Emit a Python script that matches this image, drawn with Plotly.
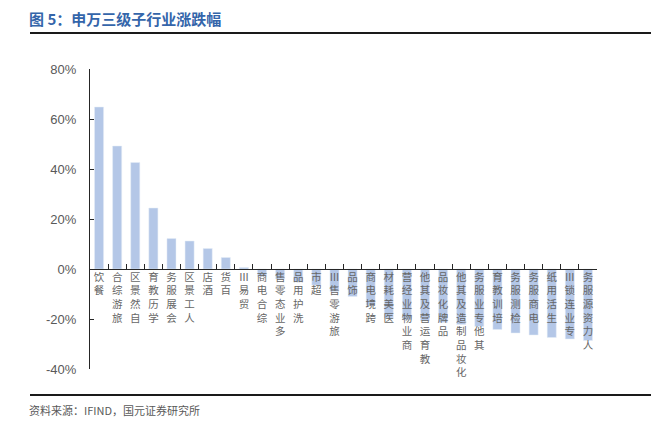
import plotly.graph_objects as go

categories = ["餐饮", "旅游综合", "自然景区", "学历教育", "会展服务", "人工景区", "酒店", "百货",
              "贸易Ⅲ", "综合电商", "多业态零售", "洗护用品", "超市", "旅游零售Ⅲ", "饰品", "跨境电商",
              "医美耗材", "商业物业经营", "教育运营及其他", "品牌化妆品", "化妆品制造及其他",
              "其他专业服务", "培训教育", "检测服务", "电商服务", "生活用纸", "专业连锁Ⅲ", "人力资源服务"]
values = [64.8, 49.2, 42.6, 24.4, 12.2, 11.2, 8.2, 4.6,
          0.6, -3.0, -4.0, -5.2, -6.5, -9.0, -11.0, -14.5,
          -19.6, -20.3, -20.8, -21.4, -22.2,
          -23.0, -24.2, -25.6, -26.4, -27.4, -28.0, -28.6]
y_ticks = [-40, -20, 0, 20, 40, 60, 80]
y_ticklabels = [f"{v}%" for v in y_ticks]

# vertical labels read bottom-to-top, characters upright
def vlabel(s):
    return "<br>".join(reversed(list(s)))

tick_text = [vlabel(c) for c in categories]

y_min, y_max = -40, 80
fig = go.Figure(go.Bar(x=categories, y=values, marker_color="#B4C7E7", width=0.5))

# page body has an 8px margin, so the figure is 8px smaller and margins shifted
fig.update_layout(
    width=651, height=423,
    margin=dict(l=82, r=62, t=61, b=62),
    plot_bgcolor="white", paper_bgcolor="white",
    showlegend=False,
    font=dict(family="Liberation Sans, Noto Sans CJK SC", color="#595959"),
    xaxis=dict(
        type="category", tickmode="array", tickvals=categories, ticktext=tick_text,
        anchor="free", position=(0 - y_min) / (y_max - y_min), automargin=False,
        showline=True, linecolor="#262626", linewidth=1.2,
        ticks="inside", ticklen=5, tickcolor="#262626", tickson="boundaries",
        tickangle=0, showgrid=False, zeroline=False,
        tickfont=dict(family="Noto Sans CJK SC", size=10.5, color="#666666"),
        ticklabelstandoff=-2,
        range=[-0.5, len(categories) - 0.5],
    ),
    yaxis=dict(
        range=[y_min, y_max], tickvals=y_ticks, ticktext=y_ticklabels, automargin=False,
        showline=True, linecolor="#262626", linewidth=1.2,
        ticks="inside", ticklen=4, tickcolor="#262626",
        showgrid=False, zeroline=False,
        tickfont=dict(family="Liberation Sans", size=13, color="#595959"),
        ticklabelstandoff=10,
    ),
)

# title and frame lines (page pixel positions converted to paper fractions)
fig.add_annotation(text="<b>图 5：申万三级子行业涨跌幅</b>", xref="paper", yref="paper",
                   x=(27 - 90) / 507, y=1 + (69 - 18) / 300, xanchor="left", yanchor="middle",
                   showarrow=False, font=dict(family="Noto Sans CJK SC", size=15, color="#3465AA"))
fig.add_shape(type="line", xref="paper", yref="paper",
              x0=(30 - 90) / 507, x1=(659 - 90) / 507, y0=1 + (69 - 33) / 300, y1=1 + (69 - 33) / 300,
              line=dict(color="#1a1a1a", width=2))
fig.add_shape(type="line", xref="paper", yref="paper",
              x0=(30 - 90) / 507, x1=(659 - 90) / 507, y0=-(395 - 369) / 300, y1=-(395 - 369) / 300,
              line=dict(color="#1a1a1a", width=2))
fig.add_annotation(text="资料来源：IFIND，国元证券研究所", xref="paper", yref="paper",
                   x=(27 - 90) / 507, y=-(410 - 369) / 300, xanchor="left", yanchor="middle",
                   showarrow=False, font=dict(family="Noto Sans CJK SC", size=11, color="#595959"))

fig.write_html("out.html")
